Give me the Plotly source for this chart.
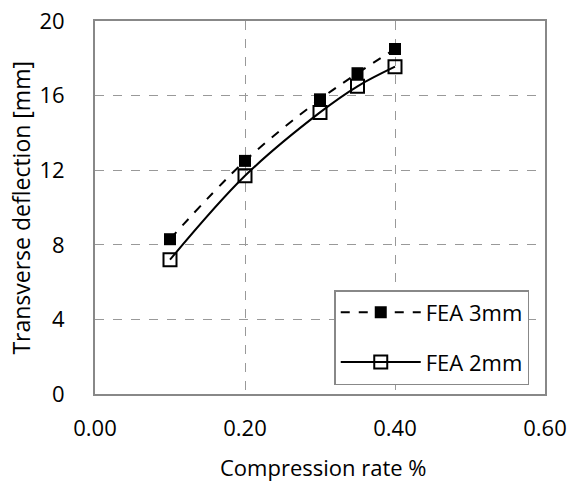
import plotly.graph_objects as go

compression_rate = [0.10, 0.20, 0.30, 0.35, 0.40]
fea_3mm = [8.3, 12.5, 15.8, 17.2, 18.5]
fea_2mm = [7.2, 11.7, 15.1, 16.5, 17.55]
x_ticks = [0.0, 0.2, 0.4, 0.6]
x_tick_labels = ["0.00", "0.20", "0.40", "0.60"]
y_ticks = [0, 4, 8, 12, 16, 20]

FONT = "Open Sans"
FS = 22

fig = go.Figure()
fig.add_trace(go.Scatter(
    x=compression_rate, y=fea_3mm, name="FEA 3mm", mode="lines+markers",
    legendgroup="a",
    line=dict(color="black", width=2, dash="dash", shape="spline"),
    marker=dict(symbol="square", size=12, color="black"),
))
fig.add_trace(go.Scatter(
    x=compression_rate, y=fea_2mm, name="FEA 2mm", mode="lines+markers",
    legendgroup="b",
    line=dict(color="black", width=2, shape="spline"),
    marker=dict(symbol="square-open", size=13, color="black", line=dict(width=2)),
))

fig.update_layout(
    width=572, height=484,
    margin=dict(l=95, r=27, t=21, b=90),
    paper_bgcolor="white", plot_bgcolor="white",
    font=dict(family=FONT, size=FS, color="black"),
    showlegend=True,
    legend=dict(
        x=0.965, y=0.024, xanchor="right", yanchor="bottom",
        bgcolor="white", bordercolor="#888888", borderwidth=1.5,
        font=dict(family=FONT, size=FS, color="black"),
        itemwidth=80, tracegroupgap=18,
    ),
    xaxis=dict(
        range=[0, 0.6], tickvals=x_ticks, ticktext=x_tick_labels,
        showgrid=True, gridcolor="#999999", griddash="dash", gridwidth=1.2,
        showline=True, linecolor="#888888", linewidth=2, mirror=True,
        zeroline=False, ticks="", ticklabelstandoff=14, automargin=False,
        ticklabeloverflow="allow",
    ),
    yaxis=dict(
        range=[0, 20], tickvals=y_ticks,
        showgrid=True, gridcolor="#999999", griddash="dash", gridwidth=1.2,
        showline=True, linecolor="#888888", linewidth=2, mirror=True,
        zeroline=False, ticks="", ticklabelstandoff=24, automargin=False,
        ticklabeloverflow="allow",
    ),
    annotations=[
        dict(text="Compression rate %", xref="paper", yref="paper",
             x=0.507, y=-0.196, xanchor="center", yanchor="middle",
             showarrow=False, font=dict(size=FS)),
        dict(text="Transverse deflection [mm]", xref="paper", yref="paper",
             x=-0.165, y=0.499, xanchor="center", yanchor="middle",
             textangle=-90, showarrow=False, font=dict(size=23)),
    ],
)

fig.write_html(
    "out.html",
    config={"displayModeBar": False},
    post_script="document.body.style.margin='0';"
                "document.documentElement.style.overflow='hidden';",
)
